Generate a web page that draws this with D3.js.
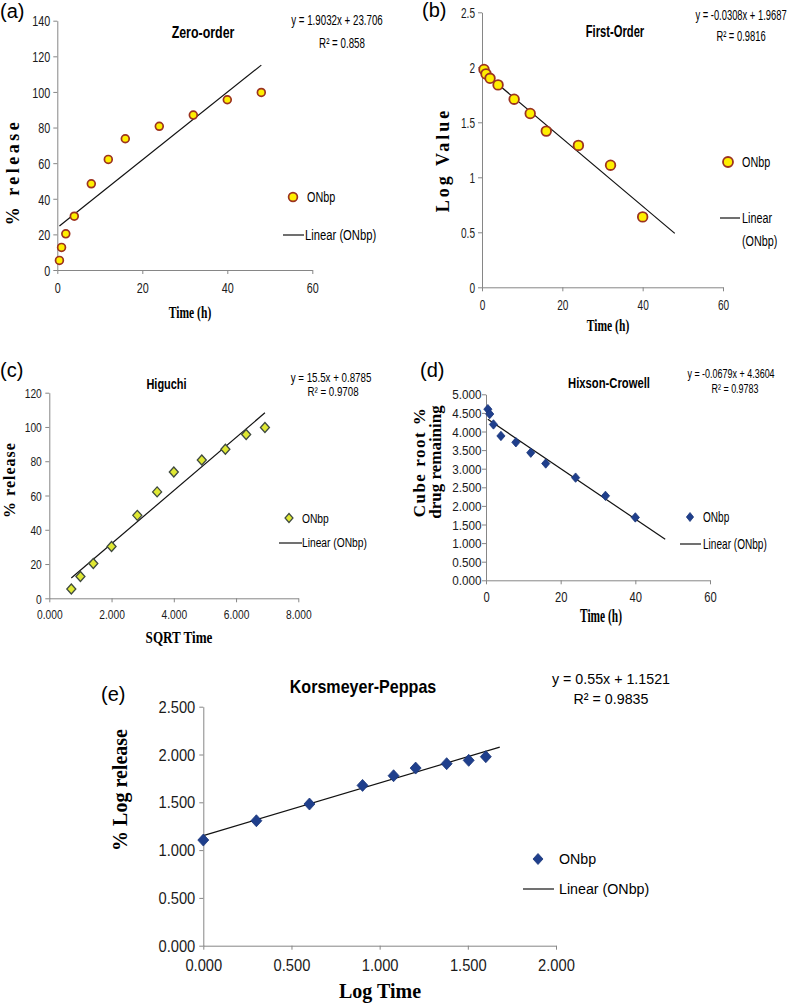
<!DOCTYPE html>
<html><head><meta charset="utf-8">
<script src="https://cdn.jsdelivr.net/npm/d3@7"></script>
<style>html,body{margin:0;padding:0;background:#fff;}svg{display:block;}</style>
</head><body>
<script>
// ---- data ----
const timeH = [0.5, 1, 2, 4, 8, 12, 16, 24, 32, 40, 48];
const releasePct = [5.4, 12.7, 20.3, 30.2, 48.4, 62.1, 73.7, 80.7, 87.0, 95.6, 99.7];
const sqrtTime = [0.707, 1.000, 1.414, 2.000, 2.828, 3.464, 4.000, 4.899, 5.657, 6.325, 6.928];
const firstOrderTime = [0.5, 1, 2, 4, 8, 12, 16, 24, 32, 40];
const logRemaining = [1.98, 1.94, 1.90, 1.84, 1.71, 1.58, 1.42, 1.29, 1.11, 0.64];
const hixsonTime = [0.5, 1, 2, 4, 8, 12, 16, 24, 32, 40];
const cubeRootRemaining = [4.60, 4.47, 4.19, 3.88, 3.71, 3.43, 3.14, 2.76, 2.27, 1.69];
const logTime = [0.000, 0.301, 0.602, 0.903, 1.079, 1.204, 1.380, 1.505, 1.602];
const logRelease = [1.105, 1.307, 1.482, 1.677, 1.778, 1.858, 1.904, 1.939, 1.977];

const panelLetters = ["(a)", "(b)", "(c)", "(d)", "(e)"];
const panelTitles = ["Zero-order", "First-Order", "Higuchi", "Hixson-Crowell", "Korsmeyer-Peppas"];
const fitSlope = [1.9032, -0.0308, 15.5, -0.0679, 0.55];
const fitIntercept = [23.706, 1.9687, 0.8785, 4.3604, 1.1521];
const fitStart = [0.5, 0.5, 0.707, 0.5, 0.0];
const fitEnd = [48, 48, 6.928, 48, 1.681];
const eqLabels = ["y = 1.9032x + 23.706", "y = -0.0308x + 1.9687", "y = 15.5x + 0.8785", "y = -0.0679x + 4.3604", "y = 0.55x + 1.1521"];
const r2Labels = ["R² = 0.858", "R² = 0.9816", "R² = 0.9708", "R² = 0.9783", "R² = 0.9835"];
const seriesName = "ONbp";
const fitName = "Linear (ONbp)";

const ticksTime = [0, 20, 40, 60];
const ticksA_y = [0, 20, 40, 60, 80, 100, 120, 140];
const ticksB_y = [0, 0.5, 1, 1.5, 2, 2.5];
const ticksC_x = [0, 2, 4, 6, 8];
const ticksC_y = [0, 20, 40, 60, 80, 100, 120];
const ticksD_y = [0, 0.5, 1, 1.5, 2, 2.5, 3, 3.5, 4, 4.5, 5];
const ticksE = [0, 0.5, 1, 1.5, 2];
const ticksE_y = [0, 0.5, 1, 1.5, 2, 2.5];

// ---- drawing ----
const W = 789, H = 1005;
const svg = d3.select("body").append("svg").attr("width", W).attr("height", H);
svg.append("rect").attr("width", W).attr("height", H).attr("fill", "#fff");

const SANS = "'Liberation Sans', Arial, sans-serif";
const SERIF = "'Liberation Serif', 'Times New Roman', serif";
const AXIS_COL = "#868686";

function txt(g, x, y, s, o) {
  o = o || {};
  let tr = `translate(${x},${y})`;
  if (o.rot) tr += ` rotate(${o.rot})`;
  if (o.sx && o.sx !== 1) tr += ` scale(${o.sx},1)`;
  const t = g.append("text").attr("transform", tr)
    .attr("text-anchor", o.anchor || "middle")
    .style("font-family", o.serif ? SERIF : SANS)
    .style("font-size", o.size + "px")
    .style("font-weight", o.bold ? "bold" : "normal")
    .attr("fill", o.fill || "#000")
    .text(s);
  if (o.ls) t.style("letter-spacing", o.ls + "px");
  if (o.dy) t.attr("dy", o.dy);
  return t;
}

function drawAxes(g, x, y, p) {
  const gx = g.append("g").attr("transform", `translate(0,${y.range()[0]})`)
    .call(d3.axisBottom(x).tickValues(p.xTicks).tickFormat(p.xFmt).tickSize(4).tickSizeOuter(0));
  const gy = g.append("g").attr("transform", `translate(${x.range()[0]},0)`)
    .call(d3.axisLeft(y).tickValues(p.yTicks).tickFormat(p.yFmt).tickSize(4).tickSizeOuter(0));
  [gx, gy].forEach(a => {
    a.select(".domain").attr("stroke", AXIS_COL).attr("stroke-width", 1);
    a.selectAll(".tick line").attr("stroke", AXIS_COL);
  });
  gx.selectAll(".tick text").attr("y", 0).attr("dy", "0.71em")
    .attr("transform", `translate(0,${p.xOff}) scale(${p.xsx || 1},1)`)
    .style("font-family", SANS).style("font-size", p.xSize + "px").attr("fill", "#1a1a1a");
  gy.selectAll(".tick text").attr("x", 0).attr("dy", "0.35em")
    .attr("transform", `translate(${-p.yOff},0) scale(${p.ysx || 1},1)`)
    .style("font-family", SANS).style("font-size", p.ySize + "px").attr("fill", "#1a1a1a");
}

function drawFit(g, x, y, i) {
  const pts = [fitStart[i], fitEnd[i]].map(v => [x(v), y(fitSlope[i] * v + fitIntercept[i])]);
  g.append("path").attr("d", d3.line()(pts)).attr("stroke", "#111").attr("stroke-width", 1.2).attr("fill", "none");
}

function diamond(w, h) { return `M0,${-h}L${w},0L0,${h}L${-w},0Z`; }

function drawCircles(g, x, y, xs, ys, r, sw) {
  g.selectAll(null).data(xs.map((v, k) => [v, ys[k]])).enter().append("circle")
    .attr("cx", d => x(d[0])).attr("cy", d => y(d[1])).attr("r", r)
    .attr("fill", "#ffef00").attr("stroke", "#9c3320").attr("stroke-width", sw);
}
function drawDiamonds(g, x, y, xs, ys, w, h, fill, stroke, sw) {
  g.selectAll(null).data(xs.map((v, k) => [v, ys[k]])).enter().append("path")
    .attr("transform", d => `translate(${x(d[0])},${y(d[1])})`)
    .attr("d", diamond(w, h)).attr("fill", fill).attr("stroke", stroke).attr("stroke-width", sw);
}

const fmt0 = d3.format("d");
const fmt3 = d3.format(".3f");
const fmtB = d => String(d);

// ===== Panel (a) Zero-order =====
{
  const g = svg.append("g");
  const x = d3.scaleLinear().domain([0, 60]).range([57.3, 312.3]);
  const y = d3.scaleLinear().domain([0, 140]).range([270, 20.7]);
  drawAxes(g, x, y, {xTicks: ticksTime, yTicks: ticksA_y, xFmt: fmt0, yFmt: fmt0,
    xOff: 12, yOff: 7, xSize: 15, ySize: 15, xsx: 0.72, ysx: 0.72});
  drawFit(g, x, y, 0);
  drawCircles(g, x, y, timeH, releasePct, 3.9, 1.7);
  txt(g, 0, 18, panelLetters[0], {size: 20, anchor: "start"});
  txt(g, 203, 38, panelTitles[0], {size: 17, bold: true, sx: 0.73});
  txt(g, 337, 25, eqLabels[0], {size: 15, sx: 0.65});
  txt(g, 342, 48, r2Labels[0], {size: 15, sx: 0.65});
  txt(g, 190, 318, "Time (h)", {size: 17, bold: true, serif: true, sx: 0.68});
  txt(g, 13, 172, "% release", {size: 18, bold: true, serif: true, rot: -90, ls: 3.5, dy: "0.33em"});
  // legend
  g.append("circle").attr("cx", 293).attr("cy", 197).attr("r", 4.4).attr("fill", "#ffef00").attr("stroke", "#9c3320").attr("stroke-width", 1.7);
  txt(g, 307, 202, seriesName, {size: 15, anchor: "start", sx: 0.72});
  g.append("line").attr("x1", 283).attr("x2", 304).attr("y1", 235).attr("y2", 235).attr("stroke", "#111").attr("stroke-width", 1.2);
  txt(g, 305, 240, fitName, {size: 15, anchor: "start", sx: 0.75});
}

// ===== Panel (b) First-Order =====
{
  const g = svg.append("g");
  const x = d3.scaleLinear().domain([0, 60]).range([482, 723]);
  const y = d3.scaleLinear().domain([0, 2.5]).range([287.3, 12.3]);
  drawAxes(g, x, y, {xTicks: ticksTime, yTicks: ticksB_y, xFmt: fmt0, yFmt: fmtB,
    xOff: 13, yOff: 7, xSize: 14, ySize: 14, xsx: 0.72, ysx: 0.72});
  drawFit(g, x, y, 1);
  drawCircles(g, x, y, firstOrderTime, logRemaining, 4.8, 1.8);
  txt(g, 422, 17, panelLetters[1], {size: 20, anchor: "start"});
  txt(g, 615, 37, panelTitles[1], {size: 16, bold: true, sx: 0.7});
  txt(g, 741, 20, eqLabels[1], {size: 14, sx: 0.67});
  txt(g, 741, 41, r2Labels[1], {size: 14, sx: 0.67});
  txt(g, 608, 331, "Time (h)", {size: 17, bold: true, serif: true, sx: 0.68});
  txt(g, 443, 160, "Log Value", {size: 18, bold: true, serif: true, rot: -90, ls: 3, dy: "0.33em"});
  g.append("circle").attr("cx", 728).attr("cy", 162).attr("r", 5).attr("fill", "#ffef00").attr("stroke", "#9c3320").attr("stroke-width", 1.8);
  txt(g, 742, 167, seriesName, {size: 15, anchor: "start", sx: 0.72});
  g.append("line").attr("x1", 720).attr("x2", 740).attr("y1", 218).attr("y2", 218).attr("stroke", "#111").attr("stroke-width", 1.2);
  txt(g, 742, 223, "Linear", {size: 15, anchor: "start", sx: 0.72});
  txt(g, 742, 246, "(ONbp)", {size: 15, anchor: "start", sx: 0.72});
}

// ===== Panel (c) Higuchi =====
{
  const g = svg.append("g");
  const x = d3.scaleLinear().domain([0, 8]).range([49.3, 298.3]);
  const y = d3.scaleLinear().domain([0, 120]).range([598.3, 392.7]);
  drawAxes(g, x, y, {xTicks: ticksC_x, yTicks: ticksC_y, xFmt: fmt3, yFmt: fmt0,
    xOff: 11.5, yOff: 7.5, xSize: 13.5, ySize: 13.5, xsx: 0.76, ysx: 0.76});
  drawFit(g, x, y, 2);
  drawDiamonds(g, x, y, sqrtTime, releasePct, 4.5, 5, "#dfe833", "#3f4a3f", 1.3);
  txt(g, 0, 377, panelLetters[2], {size: 20, anchor: "start"});
  txt(g, 166.5, 389, panelTitles[2], {size: 15, bold: true, sx: 0.73});
  txt(g, 331, 382, eqLabels[2], {size: 12.5, sx: 0.78});
  txt(g, 333, 396, r2Labels[2], {size: 12.5, sx: 0.78});
  txt(g, 179, 643, "SQRT Time", {size: 17, bold: true, serif: true, sx: 0.77});
  txt(g, 10, 480, "% release", {size: 16, bold: true, serif: true, rot: -90, ls: 1, dy: "0.33em"});
  g.append("path").attr("transform", "translate(289,518)").attr("d", diamond(4, 4.5)).attr("fill", "#dfe833").attr("stroke", "#3f4a3f").attr("stroke-width", 1.2);
  txt(g, 302, 523, seriesName, {size: 13.5, anchor: "start", sx: 0.76});
  g.append("line").attr("x1", 279).attr("x2", 302).attr("y1", 543).attr("y2", 543).attr("stroke", "#111").attr("stroke-width", 1.2);
  txt(g, 302, 547, fitName, {size: 13.5, anchor: "start", sx: 0.76});
}

// ===== Panel (d) Hixson-Crowell =====
{
  const g = svg.append("g");
  const x = d3.scaleLinear().domain([0, 60]).range([486, 710]);
  const y = d3.scaleLinear().domain([0, 5]).range([580.3, 394.3]);
  drawAxes(g, x, y, {xTicks: ticksTime, yTicks: ticksD_y, xFmt: fmt0, yFmt: fmt3,
    xOff: 11.5, yOff: 4.5, xSize: 14, ySize: 13, xsx: 0.8, ysx: 0.9});
  drawFit(g, x, y, 3);
  drawDiamonds(g, x, y, hixsonTime, cubeRootRemaining, 4.1, 4.7, "#1f3f8c", "#1a367a", 0.8);
  txt(g, 420, 377, panelLetters[3], {size: 20, anchor: "start"});
  txt(g, 609, 388, panelTitles[3], {size: 15, bold: true, sx: 0.75});
  txt(g, 731, 378, eqLabels[3], {size: 13, sx: 0.69});
  txt(g, 735, 393, r2Labels[3], {size: 13, sx: 0.69});
  txt(g, 601, 622, "Time (h)", {size: 19, bold: true, serif: true, sx: 0.6});
  txt(g, 425, 462, "Cube root %", {size: 17, bold: true, serif: true, rot: -90, ls: 1.5});
  txt(g, 441, 462, "drug remaining", {size: 17, bold: true, serif: true, rot: -90});
  g.append("path").attr("transform", "translate(690,517)").attr("d", diamond(3.6, 4.5)).attr("fill", "#1f3f8c").attr("stroke", "#1a367a").attr("stroke-width", 0.8);
  txt(g, 703, 522, seriesName, {size: 14, anchor: "start", sx: 0.72});
  g.append("line").attr("x1", 680).attr("x2", 701).attr("y1", 544).attr("y2", 544).attr("stroke", "#111").attr("stroke-width", 1.2);
  txt(g, 703, 549, fitName, {size: 14, anchor: "start", sx: 0.72});
}

// ===== Panel (e) Korsmeyer-Peppas =====
{
  const g = svg.append("g");
  const x = d3.scaleLinear().domain([0, 2]).range([203.3, 556]);
  const y = d3.scaleLinear().domain([0, 2.5]).range([945.7, 706.7]);
  drawAxes(g, x, y, {xTicks: ticksE, yTicks: ticksE_y, xFmt: fmt3, yFmt: fmt3,
    xOff: 13.5, yOff: 8, xSize: 16, ySize: 16, xsx: 0.92, ysx: 0.92});
  drawFit(g, x, y, 4);
  drawDiamonds(g, x, y, logTime, logRelease, 5.5, 6, "#1f3f8c", "#1a367a", 0.8);
  txt(g, 101, 701, panelLetters[4], {size: 20, anchor: "start"});
  txt(g, 363, 693, panelTitles[4], {size: 17.5, bold: true, sx: 0.92});
  txt(g, 611, 684, eqLabels[4], {size: 15.5, sx: 0.92});
  txt(g, 611, 704, r2Labels[4], {size: 15.5, sx: 0.92});
  txt(g, 380, 998, "Log Time", {size: 20, bold: true, serif: true});
  txt(g, 120, 790, "% Log release", {size: 20, bold: true, serif: true, rot: -90, dy: "0.33em"});
  g.append("path").attr("transform", "translate(538,859)").attr("d", diamond(5, 5.5)).attr("fill", "#1f3f8c").attr("stroke", "#1a367a").attr("stroke-width", 0.8);
  txt(g, 559, 864, seriesName, {size: 15.5, anchor: "start", sx: 0.92});
  g.append("line").attr("x1", 523).attr("x2", 554).attr("y1", 889).attr("y2", 889).attr("stroke", "#111").attr("stroke-width", 1.2);
  txt(g, 559, 894, fitName, {size: 15.5, anchor: "start", sx: 0.92});
}
</script>
</body></html>
